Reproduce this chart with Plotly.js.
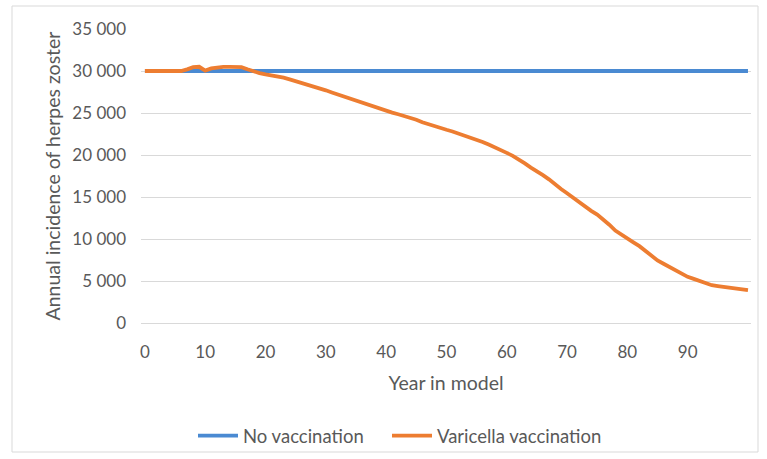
<!DOCTYPE html>
<html>
<head>
<meta charset="utf-8">
<script src="https://cdn.plot.ly/plotly-3.0.1.min.js"></script>
<style>html,body{margin:0;padding:0;background:#fff}#chart{width:767px;height:459px}</style>
</head>
<body>
<div id="chart"></div>
<script>
const years = [];
for (let i = 0; i <= 100; i++) years.push(i);
const xTicks = [0, 10, 20, 30, 40, 50, 60, 70, 80, 90];
const yTicks = [0, 5000, 10000, 15000, 20000, 25000, 30000, 35000];
const yTickLabels = ["0", "5 000", "10 000", "15 000", "20 000", "25 000", "30 000", "35 000"];

const noVaccination = years.map(() => 30000);
const varicellaVaccination = [
  30000, 30000, 30000, 30000, 30000, 30000, 30000, 30200, 30450, 30500,
  30050, 30300, 30450, 30500, 30500, 30500, 30450, 30200, 29950, 29750,
  29600, 29500, 29400, 29200, 29000, 28800, 28600, 28350, 28100, 27900,
  27700, 27450, 27200, 26950, 26700, 26450, 26250, 26000, 25800, 25550,
  25300, 25050, 24850, 24650, 24450, 24200, 23900, 23650, 23450, 23200,
  23000, 22800, 22550, 22350, 22150, 21850, 21550, 21250, 20950, 20600,
  20250, 19900, 19500, 19000, 18500, 18100, 17600, 17100, 16500, 15950,
  15450, 14900, 14350, 13850, 13350, 12900, 12350, 11700, 11000, 10500,
  10000, 9600, 9150, 8600, 7950, 7450, 7050, 6650, 6250, 5850,
  5500, 5250, 5000, 4750, 4500, 4400, 4300, 4150, 4100, 4050,
  3900
];

const seriesNames = ["No vaccination", "Varicella vaccination"];
const textColor = "#595959";
const fontFam = "Lato, 'Open Sans', sans-serif";

const traces = [
  {x: years, y: noVaccination, name: seriesNames[0], type: "scatter", mode: "lines",
   legend: "legend", line: {color: "#4A8AD2", width: 3.8}},
  {x: years, y: varicellaVaccination, name: seriesNames[1], type: "scatter", mode: "lines",
   legend: "legend2", line: {color: "#ED7D31", width: 3.8}}
];

const L = 141, R = 16, T = 29, B = 136;
const pw = 767 - L - R, ph = 459 - T - B;
const px = v => (v - L) / pw;
const py = v => (459 - B - v) / ph;

const legendBase = {orientation: "h", xanchor: "left", y: py(436), yanchor: "middle",
  bgcolor: "rgba(0,0,0,0)", font: {size: 18.5, color: textColor}, itemwidth: 40};

const layout = {
  width: 767, height: 459,
  margin: {l: L, r: R, t: T, b: B, pad: 0, autoexpand: false},
  paper_bgcolor: "#ffffff", plot_bgcolor: "#ffffff",
  font: {family: fontFam, size: 17, color: textColor},
  showlegend: true,
  legend: Object.assign({}, legendBase, {x: px(193)}),
  legend2: Object.assign({}, legendBase, {x: px(387)}),
  xaxis: {
    range: [-0.65, 100.5], tickvals: xTicks, ticktext: xTicks.map(String), automargin: false,
    showgrid: false, zeroline: false, showline: true, linecolor: "#d9d9d9", linewidth: 1,
    ticks: "", ticklabelstandoff: 14, tickfont: {size: 17, color: textColor},
    title: {text: "Year in model", font: {size: 19.5, color: textColor}, standoff: 14}
  },
  yaxis: {
    range: [0, 35000], tickvals: yTicks, ticktext: yTickLabels, automargin: false,
    showgrid: true, gridcolor: "#d9d9d9", gridwidth: 1, zeroline: false, showline: false,
    ticks: "", ticklabelstandoff: 14, tickfont: {size: 17, color: textColor},
    title: {text: "Annual incidence of herpes zoster", font: {size: 19.5, color: textColor}, standoff: 6}
  },
  shapes: [
    {type: "rect", xref: "paper", yref: "paper", x0: px(12), x1: px(758), y0: py(452), y1: py(6),
     line: {color: "#d9d9d9", width: 1}, fillcolor: "rgba(0,0,0,0)", layer: "below"}
  ]
};

Plotly.newPlot("chart", traces, layout, {displayModeBar: false, staticPlot: true});
</script>
</body>
</html>
